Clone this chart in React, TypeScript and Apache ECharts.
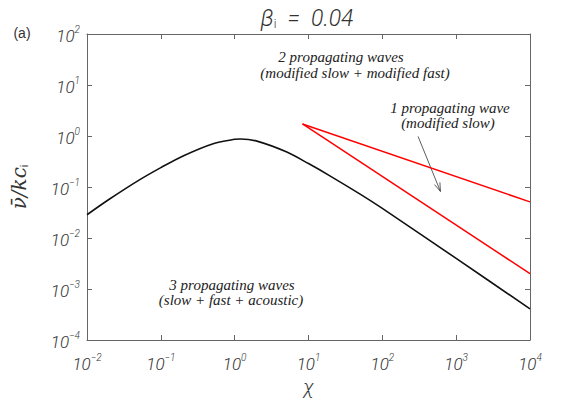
import React, { useEffect, useRef } from "react";
import * as echarts from "echarts";

// Black curve: boundary between 3 and 2 propagating waves
const chiBlack = [0.01, 0.02, 0.05, 0.1, 0.2, 0.5, 1, 1.2, 2, 5, 10, 20, 50, 100, 1000, 10000];
const nuBlack = [0.0286, 0.0575, 0.135, 0.24, 0.407, 0.7, 0.861, 0.875, 0.794, 0.49, 0.288, 0.162, 0.0724, 0.038, 0.00398, 0.000407];

// Red curves: region with 1 propagating wave
const chiRedUpper = [8.3, 10000];
const nuRedUpper = [1.72, 0.051];
const chiRedLower = [8.3, 10000];
const nuRedLower = [1.72, 0.002];

// Annotation arrow (from, to) in data units
const arrowFrom = [305, 0.98];
const arrowTo = [612, 0.082];

const xRange = [0.01, 10000];
const yRange = [0.0001, 100];

const labelFont = "Roboto";
const noteFont = "Liberation Serif";

function expLabel(v: number) {
  const e = Math.round(Math.log10(v));
  const s = e < 0 ? "\u2212" + -e : String(e);
  return `{b|10}{s|${s}}`;
}

const richLabel = {
  b: { fontSize: 17, fontStyle: "italic", fontWeight: 300, fontFamily: labelFont, color: "#333", lineHeight: 20, verticalAlign: "bottom" },
  s: { fontSize: 10, fontStyle: "italic", fontWeight: 300, fontFamily: labelFont, color: "#333", lineHeight: 10, verticalAlign: "top" },
};

export default function App() {
  const ref = useRef<HTMLDivElement>(null);
  useEffect(() => {
    document.body.style.margin = "0";
    if (!ref.current) return;
    const chart = echarts.init(ref.current, null, { renderer: "svg" });
    const axisLine = { lineStyle: { color: "#666", width: 1 } };
    const axisTick = { inside: true, length: 5, lineStyle: { color: "#666", width: 1 } };
    const noteStyle = (text: string, x: number, y: number) => ({
      type: "text",
      x,
      y,
      style: {
        text,
        fontSize: 15,
        fontStyle: "italic",
        fontFamily: noteFont,
        fill: "#222",
        align: "center",
        verticalAlign: "middle",
      },
    });
    chart.setOption({
      animation: false,
      grid: { left: 87, top: 34, right: 43, bottom: 70, containLabel: false },
      xAxis: [
        {
          type: "log",
          logBase: 10,
          min: xRange[0],
          max: xRange[1],
          splitNumber: 6,
          axisLine,
          axisTick,
          splitLine: { show: false },
          minorTick: { show: false },
          axisLabel: { margin: 12, formatter: expLabel, rich: richLabel },
          name: "\u03c7",
          nameLocation: "middle",
          nameGap: 36,
          nameTextStyle: { fontSize: 20, fontFamily: labelFont, fontWeight: 300, fontStyle: "italic", color: "#333" },
        },
        {
          type: "log",
          logBase: 10,
          min: xRange[0],
          max: xRange[1],
          splitNumber: 6,
          position: "top",
          axisLine,
          axisTick,
          splitLine: { show: false },
          axisLabel: { show: false },
        },
      ],
      yAxis: [
        {
          type: "log",
          logBase: 10,
          min: yRange[0],
          max: yRange[1],
          splitNumber: 6,
          axisLine: { show: true, ...axisLine },
          axisTick,
          splitLine: { show: false },
          axisLabel: { margin: 7, formatter: expLabel, rich: richLabel },
          name: "{n|\u03bd\u0304/kc}{i|i}",
          nameLocation: "middle",
          nameGap: 58,
          nameRotate: 90,
          nameTextStyle: {
            rich: {
              n: { fontSize: 20, fontFamily: "DejaVu Serif", fontStyle: "italic", color: "#333", lineHeight: 24, verticalAlign: "bottom" },
              i: { fontSize: 11, fontFamily: "Liberation Sans", color: "#333", lineHeight: 14, verticalAlign: "bottom" },
            },
          },
        },
        {
          type: "log",
          logBase: 10,
          min: yRange[0],
          max: yRange[1],
          splitNumber: 6,
          position: "right",
          axisLine: { show: true, ...axisLine },
          axisTick,
          splitLine: { show: false },
          axisLabel: { show: false },
        },
      ],
      series: [
        {
          type: "line",
          data: chiBlack.map((c, i) => [c, nuBlack[i]]),
          smooth: 0.3,
          showSymbol: false,
          lineStyle: { color: "#111", width: 1.6 },
        },
        {
          type: "line",
          data: chiRedUpper.map((c, i) => [c, nuRedUpper[i]]),
          showSymbol: false,
          lineStyle: { color: "#ff0000", width: 1.5 },
        },
        {
          type: "line",
          data: chiRedLower.map((c, i) => [c, nuRedLower[i]]),
          showSymbol: false,
          lineStyle: { color: "#ff0000", width: 1.5 },
        },
        {
          type: "custom",
          data: [[arrowFrom[0], arrowFrom[1], arrowTo[0], arrowTo[1]]],
          encode: { x: [0, 2], y: [1, 3] },
          renderItem: (params: any, api: any) => {
            const p1 = api.coord([api.value(0), api.value(1)]);
            const p2 = api.coord([api.value(2), api.value(3)]);
            const ang = Math.atan2(p2[1] - p1[1], p2[0] - p1[0]);
            const L = 9;
            const a = 0.33;
            const h1 = [p2[0] - L * Math.cos(ang - a), p2[1] - L * Math.sin(ang - a)];
            const h2 = [p2[0] - L * Math.cos(ang + a), p2[1] - L * Math.sin(ang + a)];
            return {
              type: "group",
              children: [
                { type: "line", shape: { x1: p1[0], y1: p1[1], x2: p2[0], y2: p2[1] }, style: { stroke: "#333", lineWidth: 0.8 } },
                { type: "polyline", shape: { points: [h1, p2, h2] }, style: { stroke: "#333", fill: "none", lineWidth: 0.8 } },
              ],
            };
          },
        },
      ],
      graphic: [
        {
          type: "text",
          x: 307,
          y: 18,
          style: {
            text: "{b|\u03b2}{s|i}{r|  =  0.04}",
            align: "center",
            verticalAlign: "middle",
            rich: {
              b: { fontSize: 23, fontFamily: labelFont, fontWeight: 300, fontStyle: "italic", fill: "#333", lineHeight: 24, verticalAlign: "bottom" },
              s: { fontSize: 12, fontFamily: labelFont, fontWeight: 300, fill: "#333", lineHeight: 14, verticalAlign: "bottom" },
              r: { fontSize: 23, fontFamily: labelFont, fontWeight: 300, fontStyle: "italic", fill: "#333", lineHeight: 24, verticalAlign: "bottom" },
            },
          },
        },
        {
          type: "text",
          x: 22,
          y: 33,
          style: { text: "(a)", fontSize: 14, fontFamily: "Liberation Sans", fill: "#333", align: "center", verticalAlign: "middle" },
        },
        noteStyle("2 propagating waves", 341, 57),
        noteStyle("(modified slow + modified fast)", 355, 73),
        noteStyle("1 propagating wave", 450, 108),
        noteStyle("(modified slow)", 448, 123),
        noteStyle("3 propagating waves", 232, 285),
        noteStyle("(slow + fast + acoustic)", 231, 300),
      ],
    });
    return () => chart.dispose();
  }, []);
  return <div ref={ref} style={{ width: 573, height: 410 }} />;
}
